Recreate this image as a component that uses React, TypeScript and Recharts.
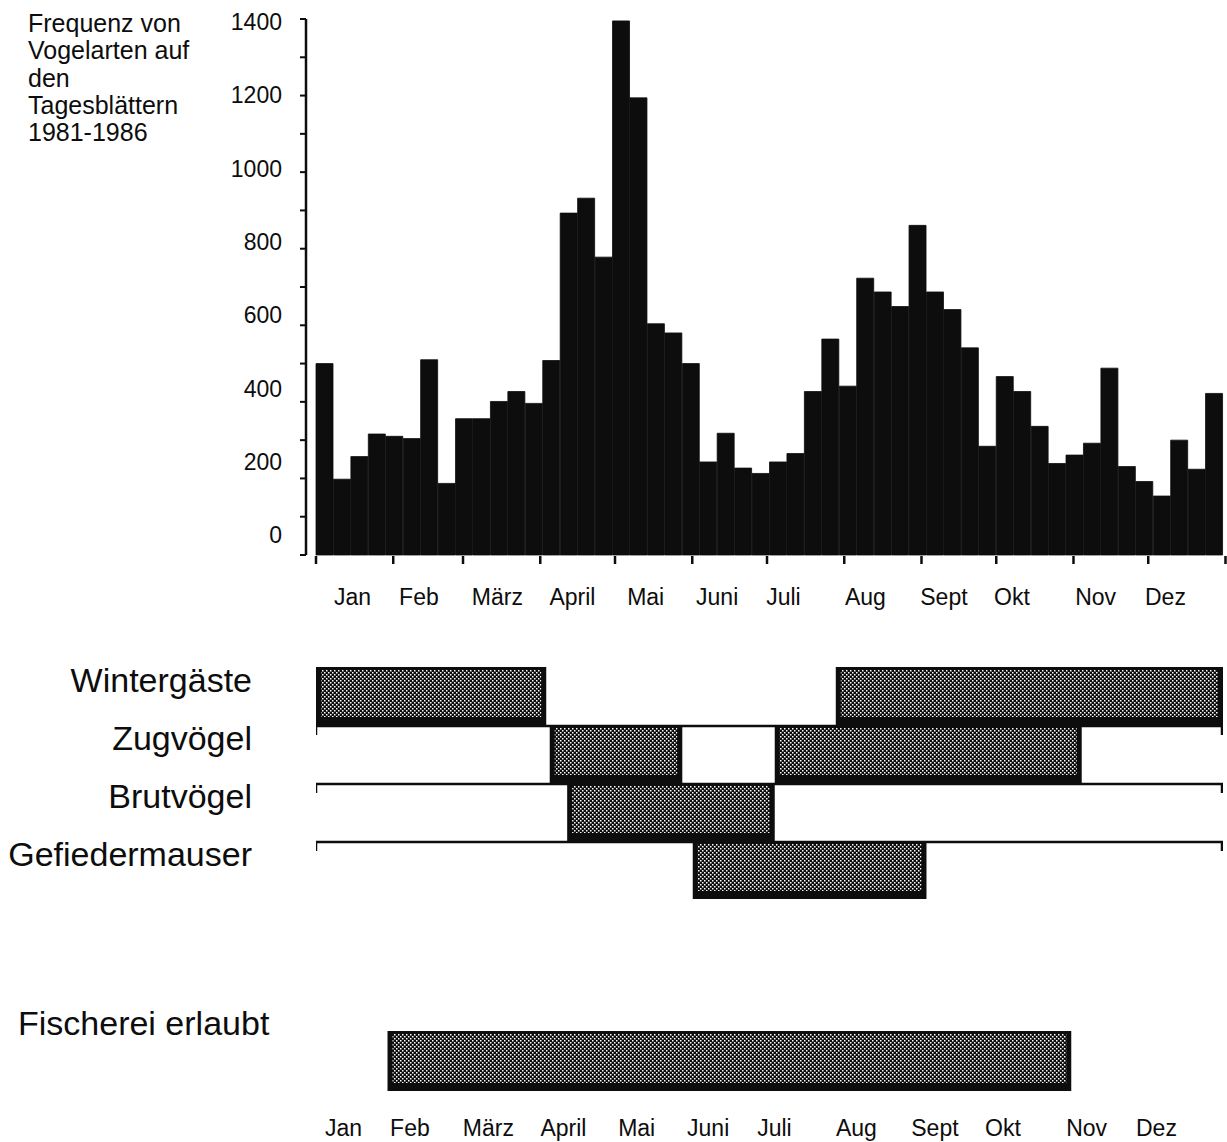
import React from 'react';
import { ComposedChart, BarChart, Bar, Line, XAxis, YAxis } from 'recharts';

// Wöchentliche Frequenz (52 Wochen)
const weekCounts = [
  500, 198, 257, 316, 310, 304, 510, 187, 356, 356, 401, 427, 396,
  508, 893, 932, 778, 1395, 1194, 604, 580, 500, 243, 318, 227, 213,
  243, 265, 427, 564, 441, 723, 687, 649, 861, 687, 641, 541, 284,
  466, 427, 336, 239, 261, 292, 488, 231, 192, 154, 300, 224, 422,
];

const months = ['Jan', 'Feb', 'März', 'April', 'Mai', 'Juni', 'Juli', 'Aug', 'Sept', 'Okt', 'Nov', 'Dez'];
const monthStartDay = [0, 31, 59, 90, 120, 151, 181, 212, 243, 273, 304, 334, 365];
// where the month names sit, in weeks
const monthLabelWeek = [2.1, 5.9, 10.4, 14.7, 18.9, 23.0, 26.8, 31.5, 36.0, 39.9, 44.7, 48.7];
const yTicks = [0, 100, 200, 300, 400, 500, 600, 700, 800, 900, 1000, 1100, 1200, 1300, 1400];

const titleLines = ['Frequenz von', 'Vogelarten auf', 'den', 'Tagesblättern', '1981-1986'];

// Zeiträume in Wochen
const groups = ['Wintergäste', 'Zugvögel', 'Brutvögel', 'Gefiedermauser'];
const firstStart = [0, 13.4, 14.4, 21.6];
const firstEnd = [13.2, 21.0, 26.3, 35.0];
const secondStart = [29.8, 26.3, null, null];
const secondEnd = [52, 43.9, null, null];
const hasTrack = [false, true, true, true];

const fishingLabel = 'Fischerei erlaubt';
const fishingStart = 4.1;
const fishingEnd = 43.3;

const FONT = '"Liberation Sans", Arial, Helvetica, sans-serif';
const INK = '#0d0d0d';

const monthTickWeeks = monthStartDay.map(d => d / 7);
const monthName = (v: number) => months[monthLabelWeek.indexOf(v)] ?? '';

const histData = weekCounts.map((v, i) => ({ wk: i + 1, mid: i + 0.5, count: v }));

const rowData = groups.map((g, i) => ({
  name: g,
  track: hasTrack[i] ? [0, 52] : null,
  first: [firstStart[i], firstEnd[i]],
  second: secondStart[i] == null ? null : [secondStart[i], secondEnd[i]],
}));

const fishData = [{ name: fishingLabel, period: [fishingStart, fishingEnd] }];

const YTick = (props: any) => {
  const { x, y, payload } = props;
  const v = payload.value;
  if (v % 200 !== 0) return null;
  // the scanned labels drift upwards towards the bottom
  const drift = 3 - ((1400 - v) / 1400) * 23;
  return (
    <text x={x} y={y + drift} dy="0.355em" textAnchor="end" fontSize={23} fill={INK} fontFamily={FONT}>
      {v}
    </text>
  );
};

const RowTick = (props: any) => {
  const { x, y, payload, anchor = 'end', shift = -16 } = props;
  return (
    <text x={x} y={y + shift} dy="0.355em" textAnchor={anchor} fontSize={34} fill={INK} fontFamily={FONT}>
      {payload.value}
    </text>
  );
};

const StippleBox = (props: any) => {
  const { x, y, width, height, patternId } = props;
  if (!width || !height) return null;
  return (
    <g>
      <rect x={x} y={y} width={width} height={height} fill={INK} />
      <rect x={x + 5} y={y + 3} width={Math.max(width - 10, 0)} height={Math.max(height - 11, 0)} fill={`url(#${patternId})`} />
    </g>
  );
};

const TrackShape = (props: any) => {
  const { x, y, width } = props;
  if (!width) return null;
  return (
    <path
      d={`M${x},${y + 10}V${y + 1}H${x + width - 1}V${y + 10}`}
      fill="none"
      stroke={INK}
      strokeWidth={2.5}
    />
  );
};

const Stipple = ({ id }: { id: string }) => (
  <defs>
    <pattern id={id} width="4" height="4" patternUnits="userSpaceOnUse">
      <rect width="4" height="4" fill={INK} />
      <rect width="1.5" height="1.5" fill="#fff" />
      <rect x="2" y="2" width="1.5" height="1.5" fill="#fff" />
    </pattern>
  </defs>
);

export default function App() {
  return (
    <div style={{ position: 'absolute', left: 0, top: 0, width: 1227, height: 1142, background: '#fff', fontFamily: FONT }}>
      <div style={{ position: 'absolute', left: 28, top: 10, fontSize: 25, lineHeight: '27.3px', color: INK }}>
        {titleLines.map(l => (
          <div key={l}>{l}</div>
        ))}
      </div>

      <div style={{ position: 'absolute', left: 0, top: 0 }}>
        <ComposedChart
          width={1227}
          height={640}
          data={histData}
          margin={{ top: 19, right: 4, bottom: 83, left: 206 }}
          barCategoryGap={0}
          barGap={0}
        >
          <XAxis xAxisId="wk" dataKey="wk" type="category" hide padding={{ left: 10, right: 0 }} />
          <XAxis
            xAxisId="mon"
            dataKey="mid"
            type="number"
            domain={[0, 52]}
            allowDataOverflow
            ticks={monthTickWeeks}
            interval={0}
            tickFormatter={() => ''}
            tickSize={8}
            tickLine={{ stroke: INK, strokeWidth: 2.5 }}
            axisLine={false}
            height={1}
            padding={{ left: 10, right: 0 }}
          />
          <XAxis
            xAxisId="lbl"
            dataKey="mid"
            type="number"
            domain={[0, 52]}
            allowDataOverflow
            ticks={monthLabelWeek}
            interval={0}
            tickFormatter={monthName}
            tickLine={false}
            axisLine={false}
            tickSize={0}
            tickMargin={34}
            height={1}
            padding={{ left: 10, right: 0 }}
            tick={{ fill: INK, fontSize: 23, fontFamily: FONT }}
          />
          <YAxis
            type="number"
            domain={[0, 1400]}
            ticks={yTicks}
            interval={0}
            width={100}
            tickSize={6}
            tickMargin={18}
            axisLine={{ stroke: INK, strokeWidth: 2.5 }}
            tickLine={{ stroke: INK, strokeWidth: 2 }}
            tick={<YTick />}
          />
          <Bar xAxisId="wk" dataKey="count" fill={INK} stroke={INK} strokeWidth={0.8} isAnimationActive={false} />
          {/* invisible series so the month axes get a scale */}
          <Line xAxisId="mon" dataKey="count" stroke="none" dot={false} activeDot={false} legendType="none" isAnimationActive={false} />
          <Line xAxisId="lbl" dataKey="count" stroke="none" dot={false} activeDot={false} legendType="none" isAnimationActive={false} />
        </ComposedChart>
      </div>

      <div style={{ position: 'absolute', left: 0, top: 640 }}>
        <BarChart
          layout="vertical"
          width={1227}
          height={280}
          data={rowData}
          margin={{ top: 27, right: 4, bottom: 21, left: 206 }}
          barCategoryGap={0}
          barGap={0}
        >
          <Stipple id="stippleRows" />
          <XAxis type="number" domain={[0, 52]} allowDataOverflow hide padding={{ left: 10, right: 0 }} />
          <YAxis
            yAxisId="a"
            type="category"
            dataKey="name"
            width={100}
            axisLine={false}
            tickLine={false}
            tickSize={0}
            tickMargin={54}
            tick={<RowTick />}
          />
          <YAxis yAxisId="b" type="category" dataKey="name" hide />
          <YAxis yAxisId="c" type="category" dataKey="name" hide />
          <Bar yAxisId="c" dataKey="track" shape={<TrackShape />} isAnimationActive={false} />
          <Bar yAxisId="a" dataKey="first" shape={<StippleBox patternId="stippleRows" />} isAnimationActive={false} />
          <Bar yAxisId="b" dataKey="second" shape={<StippleBox patternId="stippleRows" />} isAnimationActive={false} />
        </BarChart>
      </div>

      <div style={{ position: 'absolute', left: 0, top: 920 }}>
        <BarChart
          layout="vertical"
          width={1227}
          height={222}
          data={fishData}
          margin={{ top: 111, right: 4, bottom: 50, left: 206 }}
          barCategoryGap={0}
        >
          <Stipple id="stippleFish" />
          <XAxis
            type="number"
            domain={[0, 52]}
            allowDataOverflow
            ticks={monthLabelWeek}
            interval={0}
            tickFormatter={monthName}
            axisLine={false}
            tickLine={false}
            tickSize={0}
            tickMargin={29}
            height={1}
            padding={{ left: 10, right: 0 }}
            tick={{ fill: INK, fontSize: 23, fontFamily: FONT, dx: -9 }}
          />
          <YAxis
            type="category"
            dataKey="name"
            width={100}
            axisLine={false}
            tickLine={false}
            tickSize={0}
            tickMargin={288}
            tick={<RowTick anchor="start" shift={-38} />}
          />
          <Bar dataKey="period" shape={<StippleBox patternId="stippleFish" />} isAnimationActive={false} />
        </BarChart>
      </div>
    </div>
  );
}
